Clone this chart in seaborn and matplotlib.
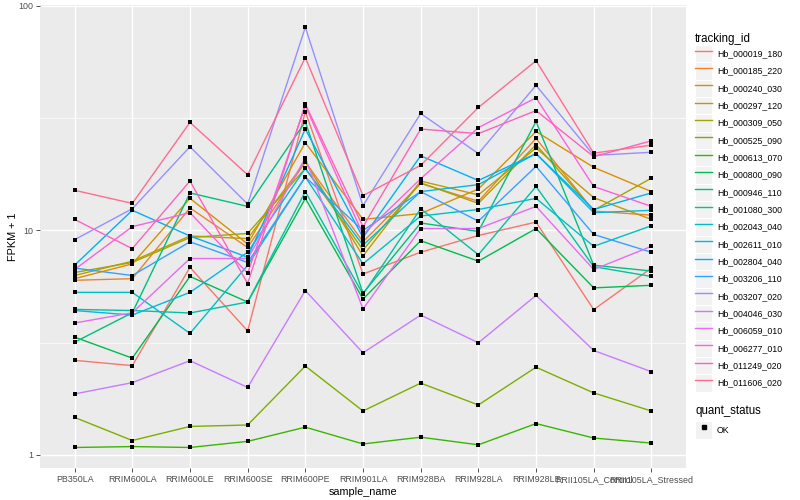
import numpy as np
import pandas as pd
import seaborn as sns
import matplotlib.pyplot as plt
import matplotlib.patches as mpatches
from matplotlib.lines import Line2D
from matplotlib.legend_handler import HandlerTuple

# samples on the x axis
samples = ['PB350LA', 'RRIM600LA', 'RRIM600LE', 'RRIM600SE', 'RRIM600PE', 'RRIM901LA',
           'RRIM928BA', 'RRIM928LA', 'RRIM928LE', 'RRII105LA_Control', 'RRII105LA_Stressed']

# FPKM + 1 per gene
hb_000019_180 = [2.64, 2.5, 6.85, 3.57, 33.8, 6.4, 8.0, 9.5, 10.9, 4.44, 6.8]
hb_000185_220 = [6.0, 6.1, 12.6, 8.4, 20.2, 8.9, 16.2, 13.5, 25.7, 12.2, 11.7]
hb_000240_030 = [6.1, 7.1, 13.9, 8.7, 24.6, 11.2, 11.9, 15.3, 27.6, 19.1, 14.9]
hb_000297_120 = [6.3, 7.3, 9.45, 9.2, 20.2, 7.7, 16.6, 14.4, 23.3, 14.0, 11.2]
hb_000309_050 = [6.5, 7.2, 9.3, 9.7, 18.9, 8.2, 16.3, 13.2, 24.1, 12.3, 17.1]
hb_000525_090 = [1.47, 1.16, 1.34, 1.36, 2.49, 1.57, 2.09, 1.67, 2.46, 1.89, 1.57]
hb_000613_070 = [1.08, 1.09, 1.08, 1.15, 1.33, 1.12, 1.20, 1.11, 1.38, 1.19, 1.13]
hb_000800_090 = [3.35, 2.7, 6.24, 4.8, 13.9, 4.95, 9.0, 7.3, 10.2, 5.55, 5.7]
hb_000946_110 = [3.18, 4.3, 14.7, 12.8, 30.5, 5.25, 10.8, 9.9, 30.6, 7.0, 6.6]
hb_001080_300 = [4.45, 4.4, 4.29, 4.8, 14.9, 5.2, 12.5, 7.8, 15.7, 6.9, 6.24]
hb_002043_040 = [5.3, 5.3, 3.48, 7.0, 17.3, 7.1, 11.6, 12.4, 13.9, 8.5, 10.5]
hb_002611_010 = [4.4, 4.2, 5.3, 8.0, 18.9, 8.6, 14.9, 16.0, 22.0, 12.0, 12.3]
hb_002804_040 = [7.0, 12.3, 9.45, 7.6, 28.3, 9.3, 21.5, 16.7, 22.0, 12.4, 14.7]
hb_003206_110 = [6.8, 6.3, 8.9, 7.2, 17.3, 10.0, 14.9, 11.0, 19.3, 9.6, 8.0]
hb_003207_020 = [9.1, 12.5, 23.6, 13.1, 80.4, 12.9, 33.2, 22.0, 44.3, 21.6, 22.3]
hb_004046_030 = [1.87, 2.10, 2.63, 2.0, 5.4, 2.85, 4.2, 3.16, 5.14, 2.92, 2.35]
hb_006059_010 = [3.87, 4.3, 7.5, 7.5, 21.0, 4.47, 10.2, 10.2, 12.8, 6.7, 8.5]
hb_006277_010 = [6.7, 10.4, 12.0, 6.45, 35.9, 9.6, 17.0, 28.7, 39.0, 15.7, 12.8]
hb_011249_020 = [11.2, 8.3, 16.6, 5.8, 36.6, 10.4, 28.3, 27.0, 34.2, 21.3, 25.1]
hb_011606_020 = [15.1, 13.2, 30.3, 17.7, 58.9, 14.3, 19.5, 35.3, 57.0, 22.1, 24.0]

tracking_ids = ['Hb_000019_180', 'Hb_000185_220', 'Hb_000240_030', 'Hb_000297_120',
                'Hb_000309_050', 'Hb_000525_090', 'Hb_000613_070', 'Hb_000800_090',
                'Hb_000946_110', 'Hb_001080_300', 'Hb_002043_040', 'Hb_002611_010',
                'Hb_002804_040', 'Hb_003206_110', 'Hb_003207_020', 'Hb_004046_030',
                'Hb_006059_010', 'Hb_006277_010', 'Hb_011249_020', 'Hb_011606_020']
series = [hb_000019_180, hb_000185_220, hb_000240_030, hb_000297_120, hb_000309_050,
          hb_000525_090, hb_000613_070, hb_000800_090, hb_000946_110, hb_001080_300,
          hb_002043_040, hb_002611_010, hb_002804_040, hb_003206_110, hb_003207_020,
          hb_004046_030, hb_006059_010, hb_006277_010, hb_011249_020, hb_011606_020]

# ggplot default hue palette, 20 levels
palette = ['#F8766D', '#EA8331', '#D89000', '#C09B00', '#A3A500', '#7CAE00', '#39B600',
           '#00BB4E', '#00BF7D', '#00C1A3', '#00BFC4', '#00BAE0', '#00B0F6', '#35A2FF',
           '#9590FF', '#C77CFF', '#E76BF3', '#FA62DB', '#FF62BC', '#FF6C91']

df = pd.DataFrame({
    'tracking_id': np.repeat(tracking_ids, len(samples)),
    'sample_name': samples * len(tracking_ids),
    'pos': list(range(len(samples))) * len(tracking_ids),
    'fpkm': np.concatenate(series),
})

plt.rcParams['font.family'] = ['Liberation Sans', 'DejaVu Sans']

fig = plt.figure(figsize=(8, 5), dpi=100)
ax = fig.add_axes([0.05, 0.064, 0.8075, 0.926])
ax.set_facecolor('#EBEBEB')

sns.lineplot(data=df, x='pos', y='fpkm', hue='tracking_id', palette=palette,
             sort=False, estimator=None, linewidth=1.0, legend=False, ax=ax, zorder=2)
sns.scatterplot(data=df, x='pos', y='fpkm', color='black', marker='s', s=11,
                linewidth=0, legend=False, ax=ax, zorder=3)

ax.set_yscale('log')
ax.set_ylim(0.875, 101)
ax.set_xlim(-0.6, len(samples) - 0.4)
ax.set_yticks([1, 10, 100])
ax.set_yticklabels(['1', '10', '100'])
ax.set_yticks([10 ** 0.5, 10 ** 1.5], minor=True)
ax.yaxis.set_minor_formatter(plt.NullFormatter())
ax.set_xticks(range(len(samples)))
ax.set_xticklabels(samples)

ax.grid(which='major', color='white', linewidth=1.0)
ax.grid(which='minor', axis='y', color='white', linewidth=0.5)
ax.set_axisbelow(True)
for s in ax.spines.values():
    s.set_visible(False)
ax.tick_params(which='major', length=3, width=0.6, color='#333333', labelcolor='#4D4D4D',
               labelsize=6.4, pad=2)
ax.tick_params(which='minor', length=0)
ax.set_xlabel('sample_name', fontsize=7.8, labelpad=2)
ax.set_ylabel('FPKM + 1', fontsize=7.8)
ax.yaxis.set_label_coords(-0.034, 0.5)

# legends
key_bg = dict(facecolor='#F2F2F2', edgecolor='white', linewidth=0.8)
handles = [(mpatches.Patch(**key_bg), Line2D([], [], color=c, lw=1.0)) for c in palette]
leg1 = fig.legend(handles, tracking_ids, title='tracking_id', loc='upper left',
                  bbox_to_anchor=(0.869, 0.934), frameon=False, fontsize=6.3,
                  title_fontsize=8.3, handlelength=1.94, handleheight=2.67,
                  labelspacing=0.0, handletextpad=0.55, borderpad=0, borderaxespad=0,
                  handler_map={tuple: HandlerTuple(ndivide=1)})
leg1._legend_box.align = 'left'

ok_handle = (mpatches.Patch(**key_bg), Line2D([], [], color='black', marker='s', ms=2.5, lw=0))
leg2 = fig.legend([ok_handle], ['OK'], title='quant_status', loc='upper left',
                  bbox_to_anchor=(0.869, 0.19), frameon=False, fontsize=6.3,
                  title_fontsize=8.3, handlelength=1.94, handleheight=2.67,
                  handletextpad=0.55, borderpad=0, borderaxespad=0,
                  handler_map={tuple: HandlerTuple(ndivide=1)})
leg2._legend_box.align = 'left'

fig.savefig('out.png', dpi=100)
